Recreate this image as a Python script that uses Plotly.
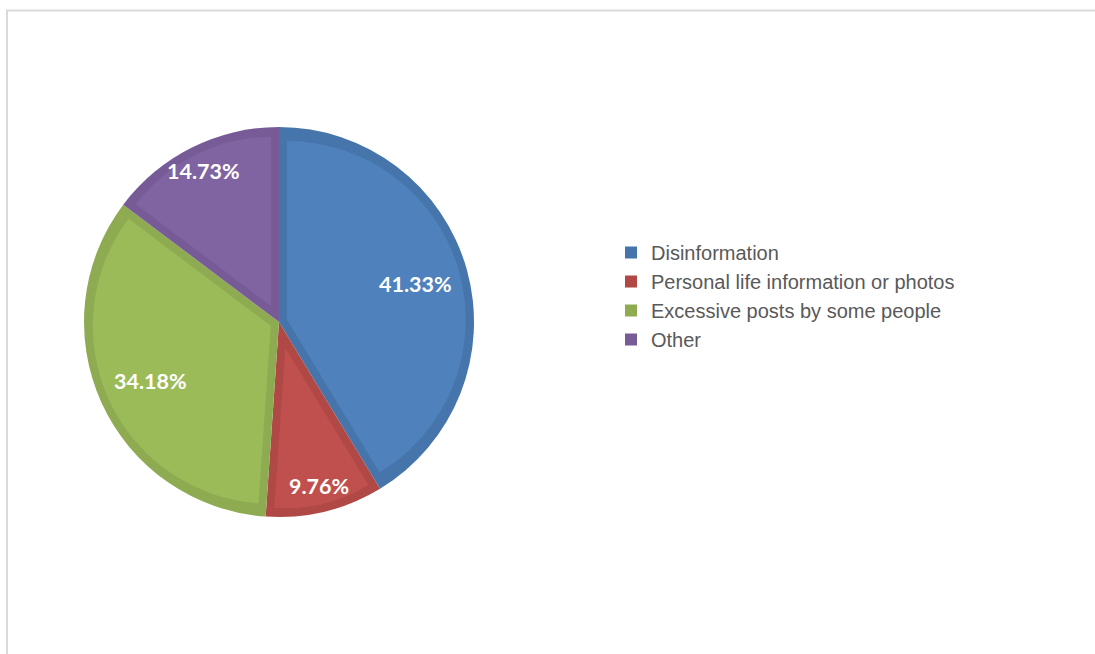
import math
import plotly.graph_objects as go

# ---- data ----
labels = ["Disinformation", "Personal life information or photos",
          "Excessive posts by some people", "Other"]
values = [41.33, 9.76, 34.18, 14.73]

# ---- style ----
light = ["#4f81bd", "#c0504d", "#9bbb59", "#8064a2"]
dark = ["#4675ab", "#b04845", "#8eab52", "#775b96"]

W, H = 1095, 654
cx, cy = 279.0, 322.0   # pie centre (px, screen)
R = 195.0               # pie radius px
B = 8.0                 # inset border width px

total = sum(values)


def dom(x, y, r):
    return dict(x=[(x - r) / W, (x + r) / W],
                y=[(H - y - r) / H, (H - y + r) / H])


fig = go.Figure()

# base (border-coloured) pie
fig.add_trace(go.Pie(
    labels=labels, values=values, sort=False, direction="clockwise",
    rotation=0, marker=dict(colors=dark, line=dict(width=0)),
    textinfo="none", hoverinfo="label+percent", domain=dom(cx, cy, R),
    showlegend=True,
))

annotations = []
# inner lighter fill for each slice (inset by B px)
cum = 0.0
for k, v in enumerate(values):
    start = cum / total * 360.0
    span = v / total * 360.0
    cum += v
    half = math.radians(span / 2.0)
    s = B / math.sin(half)
    a = math.radians(start + span / 2.0)
    kx = cx + s * math.sin(a)
    ky = cy - s * math.cos(a)
    rp = R - B - s
    fig.add_trace(go.Pie(
        values=[v, total - v], labels=[labels[k], "_rest"], sort=False,
        direction="clockwise", rotation=start,
        marker=dict(colors=[light[k], "rgba(0,0,0,0)"], line=dict(width=0)),
        textinfo="none", hoverinfo="skip", showlegend=False,
        domain=dom(kx, ky, rp),
    ))
    # data label on the slice bisector ("best fit"-like placement)
    frac = 0.725 if span > 90 else 0.865
    lx = cx + frac * R * math.sin(a)
    ly = cy - frac * R * math.cos(a)
    annotations.append(dict(
        x=lx / W, y=(H - ly) / H, xref="paper", yref="paper",
        text=f"{v / total * 100:.2f}%", showarrow=False,
        xanchor="center", yanchor="middle",
        font=dict(family="Lato", size=21.5, color="white", weight="bold"),
    ))

fig.update_layout(
    width=W, height=H,
    margin=dict(l=0, r=0, t=0, b=0),
    paper_bgcolor="white", plot_bgcolor="white",
    legend=dict(
        x=611 / W, y=(H - 233) / H, xanchor="left", yanchor="top",
        font=dict(family="Liberation Sans, Arial", size=20, color="#595959"),
        bgcolor="rgba(0,0,0,0)", tracegroupgap=0,
    ),
    annotations=annotations,
    shapes=[dict(type="rect", xref="paper", yref="paper",
                 x0=7 / W, x1=1.05, y0=-0.05, y1=(H - 10.5) / H,
                 line=dict(color="#d9d9d9", width=2), layer="below")],
)

fig.write_html("out.html")
